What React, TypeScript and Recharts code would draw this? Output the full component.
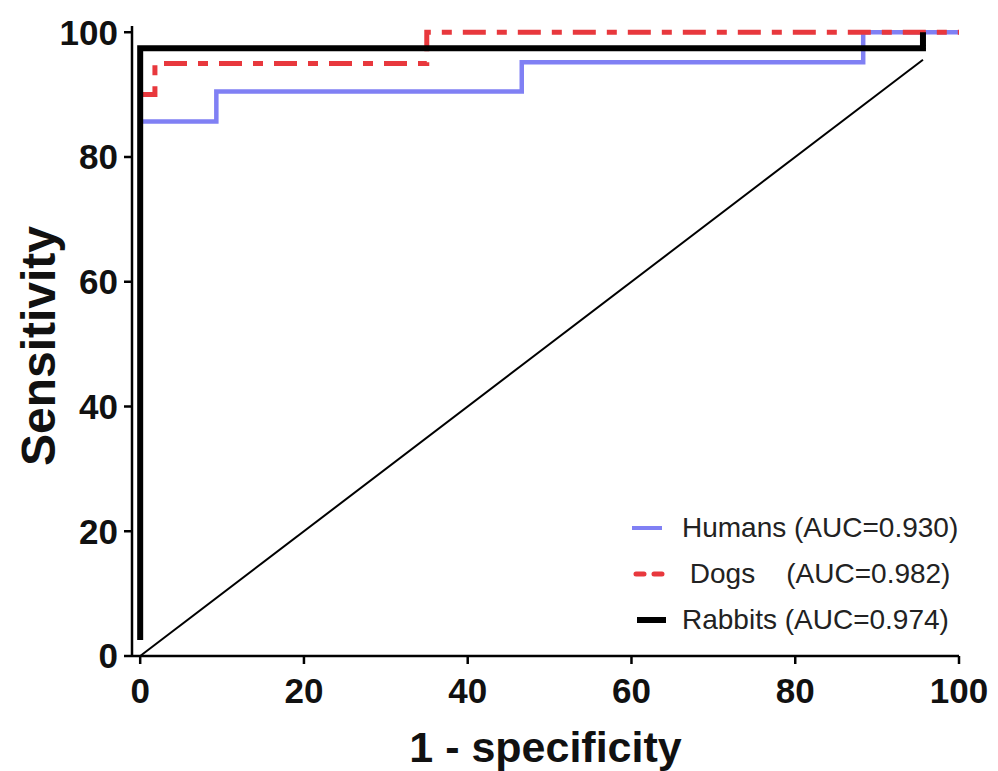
import React from 'react';
import { LineChart, Line, XAxis, YAxis, Legend } from 'recharts';

// ROC points (x = 1 - specificity %, y = sensitivity %)
const humans = [
  { x: 0, y: 85.7 },
  { x: 9.3, y: 90.5 },
  { x: 46.6, y: 95.2 },
  { x: 88.3, y: 100 },
  { x: 100, y: 100 },
];
const dogs = [
  { x: 0, y: 90 },
  { x: 1.8, y: 95 },
  { x: 35, y: 100 },
  { x: 100, y: 100 },
];
const rabbits = [
  { x: 0, y: 2.56 },
  { x: 0, y: 97.44 },
  { x: 95.6, y: 100 },
];
const reference = [
  { x: 0, y: 0 },
  { x: 95.6, y: 95.6 },
];

const xTicks = [0, 20, 40, 60, 80, 100];
const yTicks = [0, 20, 40, 60, 80, 100];

const seriesNames = ['Humans', 'Dogs', 'Rabbits'];
const seriesLabels = ['Humans (AUC=0.930)', ' Dogs    (AUC=0.982)', 'Rabbits (AUC=0.974)'];

const FONT = '"Liberation Sans", Arial, Helvetica, sans-serif';

const colors: Record<string, string> = {
  Humans: '#8080f4',
  Dogs: '#e8383d',
  Rabbits: '#000000',
};

function LegendIcon({ name }: { name: string }) {
  if (name === 'Humans') {
    return (
      <svg width={36} height={12}>
        <line x1={2} y1={6} x2={32} y2={6} stroke={colors.Humans} strokeWidth={4} />
      </svg>
    );
  }
  if (name === 'Dogs') {
    return (
      <svg width={36} height={12}>
        <line x1={6} y1={6} x2={32} y2={6} stroke={colors.Dogs} strokeWidth={5} strokeDasharray="8 10" strokeLinecap="round" />
      </svg>
    );
  }
  return (
    <svg width={36} height={12}>
      <line x1={7} y1={6} x2={36} y2={6} stroke={colors.Rabbits} strokeWidth={6} />
    </svg>
  );
}

function LegendContent() {
  return (
    <div style={{ fontFamily: FONT, fontSize: 28, color: '#222' }}>
      {seriesNames.map((n, i) => (
        <div key={n} style={{ height: 46, display: 'flex', alignItems: 'center', whiteSpace: 'pre' }}>
          <div style={{ width: 52, display: 'flex', alignItems: 'center' }}>
            <LegendIcon name={n} />
          </div>
          <span>{seriesLabels[i]}</span>
        </div>
      ))}
    </div>
  );
}

export default function App() {
  return (
    <div style={{ position: 'absolute', left: 0, top: 0, width: 998, height: 771, background: '#fff' }}>
      <LineChart
        width={998}
        height={771}
        margin={{ top: 26, right: 39, bottom: 9, left: 62 }}
        style={{ fontFamily: FONT }}
      >
        <XAxis
          type="number"
          dataKey="x"
          domain={[-1, 100]}
          ticks={xTicks}
          height={106}
          axisLine={{ stroke: '#000', strokeWidth: 2.5 }}
          tickLine={{ stroke: '#000', strokeWidth: 2.5 }}
          tickSize={8}
          tickMargin={14}
          tick={{ fill: '#111', fontSize: 35, fontWeight: 'bold', fontFamily: FONT }}
          label={{
            value: '1 - specificity',
            position: 'insideBottom',
            offset: 0,
            fill: '#111',
            fontSize: 43,
            fontWeight: 'bold',
            fontFamily: FONT,
          }}
        />
        <YAxis
          type="number"
          dataKey="y"
          domain={[0, 101]}
          ticks={yTicks}
          width={70}
          axisLine={{ stroke: '#000', strokeWidth: 2.5 }}
          tickLine={{ stroke: '#000', strokeWidth: 2.5 }}
          tickSize={8}
          tickMargin={6}
          tick={{ fill: '#111', fontSize: 35, fontWeight: 'bold', fontFamily: FONT }}
          label={{
            content: () => (
              <text
                x={38}
                y={346}
                transform="rotate(-90, 38, 346)"
                textAnchor="middle"
                dominantBaseline="central"
                fill="#111"
                fontSize={48}
                fontWeight="bold"
                fontFamily={FONT}
              >
                Sensitivity
              </text>
            ),
          }}
        />
        <Legend
          layout="vertical"
          align="center"
          verticalAlign="middle"
          content={() => <LegendContent />}
          wrapperStyle={{ left: 630, top: 505, width: 360, height: 140 }}
        />
        <Line
          data={reference}
          dataKey="y"
          name="reference"
          type="linear"
          stroke="#000"
          strokeWidth={2}
          dot={false}
          activeDot={false}
          legendType="none"
          isAnimationActive={false}
        />
        <Line
          data={humans}
          dataKey="y"
          name="Humans"
          type="stepAfter"
          stroke={colors.Humans}
          strokeWidth={4.5}
          dot={false}
          activeDot={false}
          isAnimationActive={false}
        />
        <Line
          data={dogs}
          dataKey="y"
          name="Dogs"
          type="stepAfter"
          stroke={colors.Dogs}
          strokeWidth={5}
          strokeDasharray="23 11 10 11"
          dot={false}
          activeDot={false}
          isAnimationActive={false}
        />
        <Line
          data={rabbits}
          dataKey="y"
          name="Rabbits"
          type="stepAfter"
          stroke={colors.Rabbits}
          strokeWidth={6}
          dot={false}
          activeDot={false}
          isAnimationActive={false}
        />
      </LineChart>
    </div>
  );
}
